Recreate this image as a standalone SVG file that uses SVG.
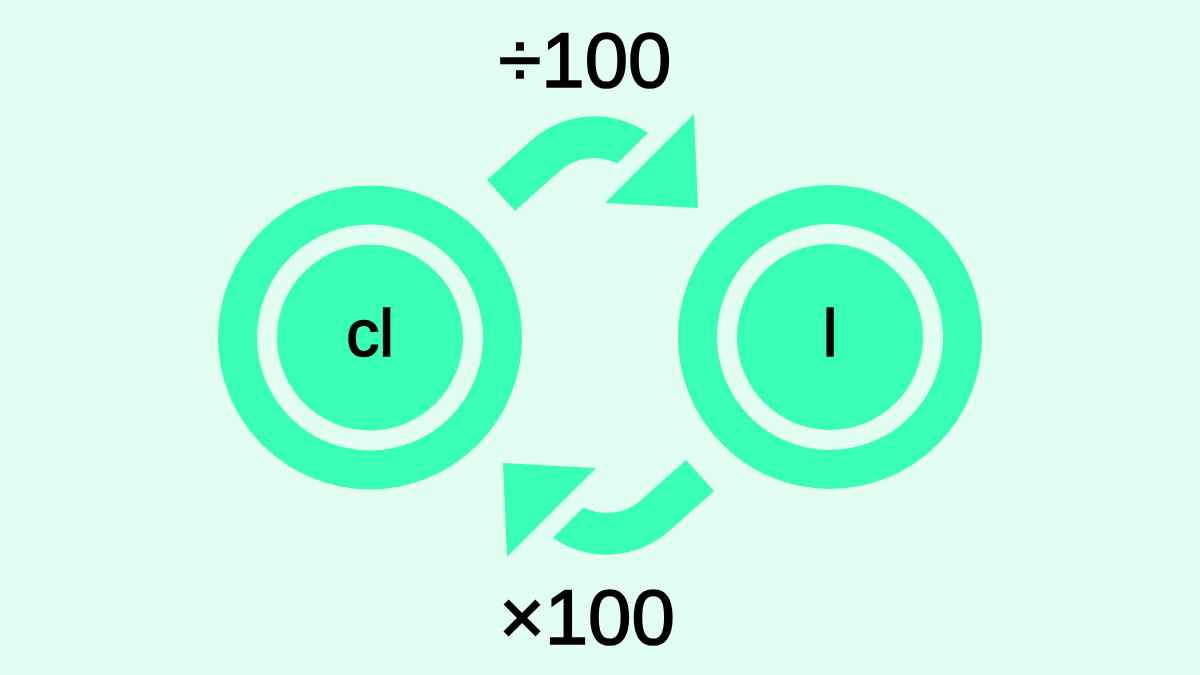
<svg xmlns="http://www.w3.org/2000/svg" width="1200" height="675" viewBox="0 0 1200 675">
<style>
.g{fill:#38feb6}
.bg{fill:#e2fdf2}
.ring{fill:none;stroke:#38feb6;stroke-width:39}
.t{font-family:"Liberation Sans",Arial,sans-serif;fill:#000;stroke:#000;stroke-width:1.6;text-anchor:middle}
.node{font-size:66px}
.lbl{font-size:78px}
</style>
<defs>
<g id="arrow">
<path class="g" d="M487,180 L532,140 A94,94 0 0 1 648,133 L617.4,163.6 A52,52 0 0 0 559.7,171 L515,211 Z"/>
<polygon class="g" points="694,114 698,208 605,203"/>
</g>
</defs>
<rect class="bg" width="1200" height="675"/>
<g id="connectors">
<use href="#arrow"/>
<use href="#arrow" transform="rotate(180 600.5 335.5)"/>
</g>
<g id="node-cl">
<circle class="ring" cx="370" cy="337.5" r="132.5"/>
<circle class="g" cx="370" cy="337.5" r="93"/>
<text class="t node" x="370" y="356">cl</text>
</g>
<g id="node-l">
<circle class="ring" cx="830" cy="337" r="132.5"/>
<circle class="g" cx="830" cy="337" r="93"/>
<text class="t node" x="830" y="356">l</text>
</g>
<g id="labels">
<text class="t lbl" x="585" y="87">÷100</text>
<text class="t lbl" x="587" y="644">×100</text>
</g>
</svg>
